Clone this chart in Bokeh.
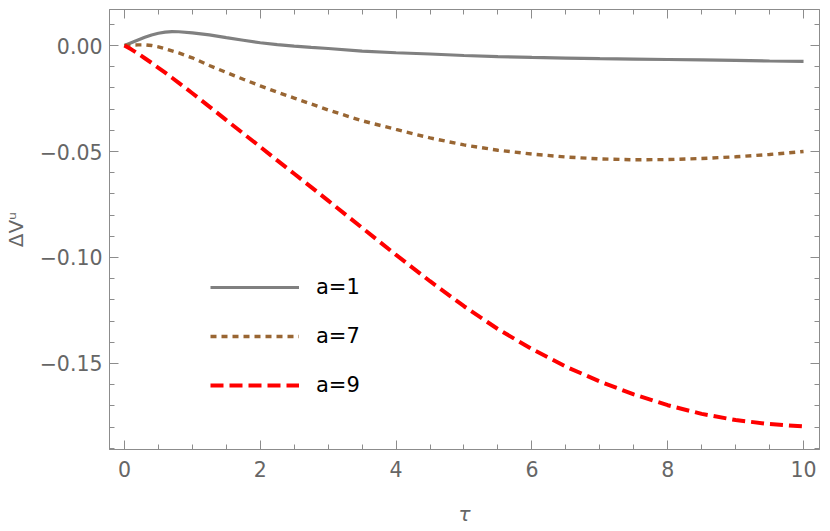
from bokeh.plotting import figure
from bokeh.models import (Range1d, LinearAxis, SingleIntervalTicker,
                          CustomJSTickFormatter, Legend, LegendItem)
from bokeh.embed import file_html
from bokeh.resources import INLINE

# ---- data ----
tau = [0, 0.1, 0.2, 0.3, 0.4, 0.5, 0.6, 0.7, 0.8, 1.0, 1.25, 1.5, 1.75,
       2.0, 2.25, 2.5, 2.75, 3.0, 3.5, 4.0, 4.5, 5.0, 5.5, 6.0, 6.5, 7.0,
       7.5, 8.0, 8.5, 9.0, 9.5, 10.0]

dv_a1 = [0, 0.0013, 0.0026, 0.0039, 0.0050, 0.0058, 0.0063, 0.0066, 0.0065,
         0.0060, 0.0050, 0.0037, 0.0025, 0.0013, 0.0004, -0.0003, -0.0009,
         -0.0014, -0.0026, -0.0034, -0.0040, -0.0047, -0.0052, -0.0056,
         -0.0059, -0.0062, -0.0064, -0.0066, -0.0068, -0.0070, -0.0073,
         -0.0075]

dv_a7 = [0, 0.0002, 0.0003, 0.0003, 0.0000, -0.0006, -0.0015, -0.0025,
         -0.0035, -0.0058, -0.0094, -0.0127, -0.0159, -0.0190, -0.0220,
         -0.0248, -0.0276, -0.0304, -0.0355, -0.0396, -0.0436, -0.0469,
         -0.0494, -0.0512, -0.0526, -0.0535, -0.0539, -0.0538, -0.0533,
         -0.0525, -0.0514, -0.0500]

dv_a9 = [0, -0.0018, -0.0038, -0.0060, -0.0082, -0.0105, -0.0128, -0.0152,
         -0.0176, -0.0225, -0.0288, -0.0352, -0.0415, -0.0478, -0.0542,
         -0.0605, -0.0668, -0.0732, -0.0860, -0.0988, -0.1112, -0.1230,
         -0.1338, -0.1432, -0.1515, -0.1585, -0.1646, -0.1697, -0.1738,
         -0.1767, -0.1786, -0.1797]

series_labels = ["a=1", "a=7", "a=9"]
series_colors = ["#808080", "#996633", "#ff0000"]

x_tick_interval = 2
y_tick_interval = 0.05

FRAME = "#8c8c8c"
LABEL = "#666666"
FONT = "DejaVu Sans"

p = figure(width=830, height=531, output_backend="svg", toolbar_location=None,
           x_range=Range1d(-0.22, 10.235), y_range=Range1d(-0.1906, 0.017),
           min_border_left=108, min_border_right=11, min_border_top=9,
           min_border_bottom=82,
           x_axis_label="τ", y_axis_label="ΔVᵘ")
p.grid.visible = False
p.outline_line_color = FRAME
p.outline_line_width = 1
p.background_fill_color = "white"
p.border_fill_color = "white"

bottom_axis = p.below[0]
left_axis = p.left[0]

bottom_axis.ticker = SingleIntervalTicker(interval=x_tick_interval, num_minor_ticks=4)
left_axis.ticker = SingleIntervalTicker(interval=y_tick_interval, num_minor_ticks=5)
left_axis.formatter = CustomJSTickFormatter(code="""
if (Math.abs(tick) < 1e-9) { return '0.00'; }
return (tick < 0 ? '\u2212' : '') + Math.abs(tick).toFixed(2);
""")

top_axis = LinearAxis(ticker=SingleIntervalTicker(interval=x_tick_interval, num_minor_ticks=4),
                      formatter=CustomJSTickFormatter(code="return '';"))
right_axis = LinearAxis(ticker=SingleIntervalTicker(interval=y_tick_interval, num_minor_ticks=5),
                        formatter=CustomJSTickFormatter(code="return '';"))
p.add_layout(top_axis, "above")
p.add_layout(right_axis, "right")

for ax in [bottom_axis, left_axis, top_axis, right_axis]:
    ax.axis_line_color = FRAME
    ax.major_tick_line_color = FRAME
    ax.minor_tick_line_color = FRAME
    ax.major_tick_in = 9
    ax.major_tick_out = 0
    ax.minor_tick_in = 5
    ax.minor_tick_out = 0
    ax.major_label_text_color = LABEL
    ax.major_label_text_font = FONT
    ax.major_label_text_font_size = "20.5px"
    ax.axis_label_text_color = LABEL
    ax.axis_label_text_font = FONT
    ax.axis_label_text_font_size = "20px"

for ax in [top_axis, right_axis]:
    ax.major_label_standoff = 0
    ax.major_label_text_font_size = "1px"

bottom_axis.major_label_standoff = 11
bottom_axis.axis_label_standoff = 22
bottom_axis.axis_label_text_font_style = "italic"
left_axis.major_label_standoff = 7
left_axis.axis_label_standoff = 9
left_axis.axis_label_text_font_style = "normal"

r1 = p.line(tau, dv_a1, line_color=series_colors[0], line_width=3.2)
r2 = p.line(tau, dv_a7, line_color=series_colors[1], line_width=3.4, line_dash="6 5")
r3 = p.line(tau, dv_a9, line_color=series_colors[2], line_width=4, line_dash="13 6")

legend = Legend(items=[LegendItem(label=series_labels[0], renderers=[r1]),
                       LegendItem(label=series_labels[1], renderers=[r2]),
                       LegendItem(label=series_labels[2], renderers=[r3])],
                location=(101, 52), glyph_width=89, glyph_height=24,
                label_height=24, spacing=25, label_standoff=17, padding=0,
                margin=0, border_line_alpha=0, background_fill_alpha=0,
                label_text_font=FONT, label_text_font_size="21px",
                label_text_color="black")
p.add_layout(legend)

open("out.html", "w").write(file_html(p, INLINE))
